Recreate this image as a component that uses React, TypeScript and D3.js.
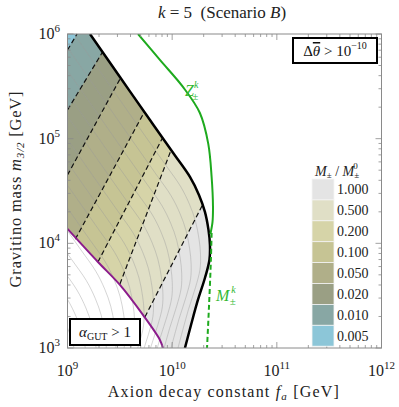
import React from "react";
import * as d3 from "d3";

// plot window (log10 of values)
const faExtent = [9, 12];
const mExtent = [3, 6];
const xTickExps = [9, 10, 11, 12];
const yTickExps = [3, 4, 5, 6];

// curves as [log10 fa, log10 m32]
const blackCurve = [
  [9.215, 6.0], [9.501, 5.589], [9.788, 5.178], [10.027, 4.839], [10.17, 4.634],
  [10.256, 4.462], [10.313, 4.3], [10.347, 4.128], [10.361, 3.985], [10.356, 3.841],
  [10.313, 3.669], [10.246, 3.459], [10.18, 3.22], [10.122, 3.0],
];
const purpleCurve = [
  [9.0, 4.138], [9.291, 3.822], [9.501, 3.603], [9.721, 3.316], [9.883, 3.077], [9.912, 3.0],
];
const zCurve = [
  [9.674, 6.0], [9.883, 5.752], [10.103, 5.494], [10.265, 5.245], [10.345, 4.95],
  [10.377, 4.634], [10.39, 4.35], [10.385, 4.2], [10.365, 4.09],
];
const mCurve = [[10.377, 4.1], [10.37, 3.84], [10.352, 3.4], [10.333, 3.0]];

// contour lines of M/M0 (lower end, upper end), from 0.005|0.010 up to 0.500|1.000
const dashedContours = [
  [[9.0, 5.847], [9.091, 6.0]],
  [[9.0, 5.274], [9.335, 5.828]],
  [[9.0, 4.653], [9.507, 5.58]],
  [[9.075, 4.04], [9.734, 5.255]],
  [[9.291, 3.822], [9.908, 5.007]],
  [[9.501, 3.612], [9.99, 4.892]],
  [[9.74, 3.297], [10.29, 4.367]],
];

const levels = ["0.005", "0.010", "0.020", "0.050", "0.100", "0.200", "0.500", "1.000"];
const levelColors = ["#8cc6d8", "#88a7a4", "#9a9f84", "#b0af89", "#c6c494", "#d6d4a8", "#e0dfc6", "#e4e4e4"];

const serif = "'Liberation Serif', 'Times New Roman', serif";

export default function App() {
  const x = d3.scaleLog().domain([10 ** faExtent[0], 10 ** faExtent[1]]).range([67.5, 381.5]);
  const y = d3.scaleLog().domain([10 ** mExtent[0], 10 ** mExtent[1]]).range([348, 34]);
  const px = (p: number[]): [number, number] => [x(10 ** p[0]), y(10 ** p[1])];
  const line = d3.line<number[]>().x((p) => px(p)[0]).y((p) => px(p)[1]);
  const smooth = d3.line<number[]>().x((p) => px(p)[0]).y((p) => px(p)[1]).curve(d3.curveCatmullRom);

  const [x0, x1] = x.range();
  const [y0, y1] = [y.range()[1], y.range()[0]];

  // allowed region: left/top frame, black boundary, purple boundary
  const blackD = smooth(blackCurve) || "";
  const purplePx = purpleCurve.slice().reverse().map(px);
  const corner = px([faExtent[0], mExtent[1]]);
  const regionD =
    `M${corner.join(",")}L` + blackD.slice(1) +
    purplePx.map((p) => `L${p[0]},${p[1]}`).join("") + "Z";

  const halfPlane = (seg: number[][]) => {
    const a = px(seg[0]);
    const b = px(seg[1]);
    const dx = b[0] - a[0];
    const dy = b[1] - a[1];
    const A = [a[0] - dx * 10, a[1] - dy * 10];
    const B = [b[0] + dx * 10, b[1] + dy * 10];
    return `M${A[0]},${A[1]}L${B[0]},${B[1]}L${B[0] - 3000},${B[1]}L${A[0] - 3000},${A[1]}Z`;
  };

  // family of thin contour lines parallel to the black boundary
  const first = blackCurve[0];
  const second = blackCurve[1];
  const last = blackCurve[blackCurve.length - 1];
  const prev = blackCurve[blackCurve.length - 2];
  const blackExt = [
    [first[0] + (first[0] - second[0]) * 2, first[1] + (first[1] - second[1]) * 2],
    ...blackCurve,
    [last[0] + (last[0] - prev[0]) * 4, last[1] + (last[1] - prev[1]) * 4],
  ];
  const thin = d3.range(1, 34).map((n) =>
    blackExt.map((p) => [p[0] - 0.09 * n, p[1] - 0.09 * n])
  );

  const minorX = d3.range(faExtent[0], faExtent[1]).flatMap((e) => d3.range(1, 10).map((k) => k * 10 ** e)).concat([10 ** faExtent[1]]);
  const minorY = d3.range(mExtent[0], mExtent[1]).flatMap((e) => d3.range(1, 10).map((k) => k * 10 ** e)).concat([10 ** mExtent[1]]);
  const isMajor = (v: number) => Math.abs(Math.log10(v) - Math.round(Math.log10(v))) < 1e-6;
  const tickCol = "#8a8a8a";

  const rowH = 20.9;
  const legTop = 179;

  return (
    <svg width={399} height={407} style={{ display: "block", position: "absolute", left: 0, top: 0 }} fontFamily={serif}>
      <defs>
        <clipPath id="plotArea">
          <rect x={x0} y={y0} width={x1 - x0} height={y1 - y0} />
        </clipPath>
        <clipPath id="region">
          <path d={regionD} />
        </clipPath>
      </defs>
      <rect width={399} height={407} fill="#fff" />

      {/* bands */}
      <g clipPath="url(#region)">
        <rect x={x0} y={y0} width={x1 - x0} height={y1 - y0} fill={levelColors[7]} />
        {dashedContours.map((seg, i) => i).reverse().map((i) => (
          <path key={i} d={halfPlane(dashedContours[i])} fill={levelColors[i]} />
        ))}
      </g>

      {/* thin contours */}
      <g clipPath="url(#plotArea)" fill="none" stroke="#9a9a9a" strokeWidth={0.7} strokeOpacity={0.6}>
        {thin.map((c, i) => (
          <path key={i} d={smooth(c) || ""} />
        ))}
      </g>

      {/* dashed contour lines */}
      <g stroke="#111" strokeWidth={1.2} strokeDasharray="5,3" fill="none">
        {dashedContours.map((seg, i) => (
          <path key={i} d={line(seg) || ""} />
        ))}
      </g>

      <g clipPath="url(#plotArea)" fill="none">
        <path d={smooth(purpleCurve) || ""} stroke="#8c1c8c" strokeWidth={2} />
        <path d={blackD} stroke="#000" strokeWidth={2.5} />
        <path d={smooth(zCurve) || ""} stroke="#1eaa1e" strokeWidth={2} />
        <path d={smooth(mCurve) || ""} stroke="#1eaa1e" strokeWidth={2} strokeDasharray="5,3" />
      </g>

      {/* frame and ticks */}
      <rect x={x0} y={y0} width={x1 - x0} height={y1 - y0} fill="none" stroke={tickCol} strokeWidth={1} />
      <g stroke={tickCol} strokeWidth={0.8}>
        {minorX.map((v, i) => {
          const len = isMajor(v) ? 6 : 3;
          return (
            <g key={i}>
              <line x1={x(v)} x2={x(v)} y1={y1} y2={y1 - len} />
              <line x1={x(v)} x2={x(v)} y1={y0} y2={y0 + len} />
            </g>
          );
        })}
        {minorY.map((v, i) => {
          const len = isMajor(v) ? 6 : 3;
          return (
            <g key={i}>
              <line y1={y(v)} y2={y(v)} x1={x0} x2={x0 + len} />
              <line y1={y(v)} y2={y(v)} x1={x1} x2={x1 - len} />
            </g>
          );
        })}
      </g>

      {/* tick labels */}
      <g fontSize={16} fill="#222">
        {xTickExps.map((e) => (
          <text key={e} x={x(10 ** e)} y={376} textAnchor="middle">
            10<tspan fontSize={11} dy={-7}>{e}</tspan>
          </text>
        ))}
        {yTickExps.map((e) => (
          <text key={e} x={60} y={y(10 ** e) + 5} textAnchor="end">
            10<tspan fontSize={11} dy={-7}>{e}</tspan>
          </text>
        ))}
      </g>

      {/* axis titles */}
      <text x={224} y={397} textAnchor="middle" fontSize={16} fill="#222" letterSpacing={1.2}>
        Axion decay constant <tspan fontStyle="italic">f</tspan>
        <tspan fontStyle="italic" fontSize={11} dy={3}>a</tspan>
        <tspan dy={-3}> [GeV]</tspan>
      </text>
      <text transform={`translate(21,${(y0 + y1) / 2 - 2}) rotate(-90)`} textAnchor="middle" fontSize={16.5} fill="#222" letterSpacing={0.8}>
        Gravitino mass  <tspan fontStyle="italic">m</tspan>
        <tspan fontStyle="italic" fontSize={11} dy={3}>3/2</tspan>
        <tspan dy={-3}> [GeV]</tspan>
      </text>
      <text x={222} y={18} textAnchor="middle" fontSize={17} fill="#222" xmlSpace="preserve">
        <tspan fontStyle="italic">k</tspan> = 5  (Scenario <tspan fontStyle="italic">B</tspan>)
      </text>

      {/* curve labels */}
      <text x={185} y={96} fontSize={16} fill="#33b833" fontStyle="italic">
        Z<tspan fontSize={10} dy={-8}>k</tspan>
        <tspan fontSize={11} dx={-6} dy={12} fontStyle="normal">±</tspan>
      </text>
      <text x={216} y={301} fontSize={16} fill="#33b833" fontStyle="italic">
        M<tspan fontSize={10} dy={-8} dx={2}>k</tspan>
        <tspan fontSize={11} dx={-6} dy={12} fontStyle="normal">±</tspan>
      </text>

      {/* boxes */}
      <rect x={293} y={38} width={84} height={25} fill="#fff" stroke="#000" strokeWidth={2} />
      <text x={335} y={56} textAnchor="middle" fontSize={15} fill="#111">
        Δ<tspan fontStyle="italic" style={{ textDecoration: "overline" }}>θ</tspan> &gt; 10<tspan fontSize={10} dy={-7}>−10</tspan>
      </text>
      <rect x={70} y={319} width={70} height={26} fill="#fff" stroke="#000" strokeWidth={2} />
      <text x={105} y={337} textAnchor="middle" fontSize={15} fill="#111">
        <tspan fontStyle="italic">α</tspan>
        <tspan fontSize={10} dy={3}>GUT</tspan>
        <tspan dy={-3}> &gt; 1</tspan>
      </text>

      {/* legend */}
      <text x={315} y={176} fontSize={14} fill="#222">
        <tspan fontStyle="italic">M</tspan>
        <tspan fontSize={9} dy={2}>±</tspan>
        <tspan dy={-2}> / </tspan>
        <tspan fontStyle="italic">M</tspan>
        <tspan fontSize={9} dy={2}>±</tspan>
        <tspan fontSize={9} dx={-6} dy={-9}>0</tspan>
      </text>
      {levels.slice().reverse().map((lv, i) => (
        <g key={lv}>
          <rect x={312} y={legTop + i * rowH} width={22} height={rowH} fill={levelColors[7 - i]} stroke="#f4f4f4" strokeWidth={0.8} />
          <text x={337} y={legTop + i * rowH + rowH / 2 + 5} fontSize={14} fill="#222">{lv}</text>
        </g>
      ))}
    </svg>
  );
}
